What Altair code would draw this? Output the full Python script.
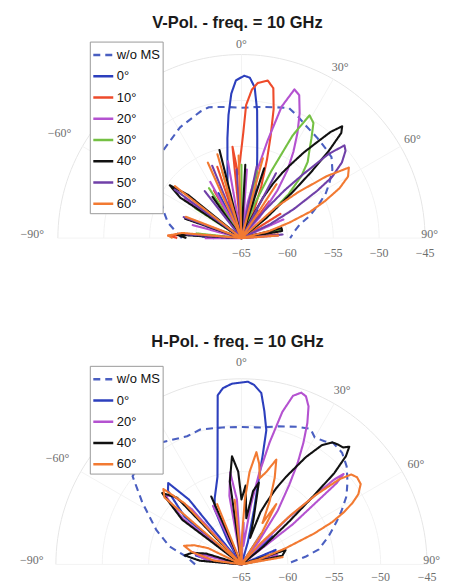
import altair as alt
import pandas as pd
import numpy as np

# ---------------- series names / colours ----------------
top_series = ["w/o MS", "0°", "10°", "20°", "30°", "40°", "50°", "60°"]
bot_series = ["w/o MS", "0°", "20°", "40°", "60°"]
series_colors = {"w/o MS": "#4a5fc1", "0°": "#2c3fbd", "10°": "#ee4b2b", "20°": "#b452d0",
                 "30°": "#74c043", "40°": "#111111", "50°": "#7040a8", "60°": "#f27a32"}

# ---------------- V-Pol (top) : angle (deg) / gain (dB) ----------------
wo_top_ang = [-90,-85,-78,-70,-60,-50,-42,-29,-18,-14,-7,0,7,14,20,25,30,37,43,48,53,58,62,66,72,77,83,87,90]
wo_top_db = [-58.5,-57.9,-56.8,-55.9,-54.6,-53.2,-52.2,-51.2,-50.5,-50.3,-50.6,-50.8,-50.6,-50.3,-49.9,-50.4,-50.9,-51.3,-51.6,-51.8,-52.6,-53.7,-54.6,-55.7,-57.2,-58.5,-59.2,-59.5,-59.7]

t0_ang = [-90,-86,-82,-74,-71,-68,-56,-52,-48,-32,-27,-23,-19,-16,-14,-12,-10,-8,-6,-4,-2,1,3,5,7,9,11,13,16,20,24,28,31,35,46,50,55,72,77,82,90]
t0_db = [-62,-59,-66,-66,-61,-66,-66,-59.5,-66,-66,-59.5,-66,-61,-59.6,-58.7,-57.7,-56.2,-54,-51.5,-49.2,-47.8,-47.3,-47.5,-48.5,-51,-54,-56,-57.5,-59.5,-62,-66,-66,-61.5,-66,-66,-62,-66,-66,-62.5,-66,-66]

t10_ang = [-90,-88,-85,-81,-74,-71,-67,-57,-53,-49,-35,-30,-26,-22,-18.7,-15,-9,-5.6,-3,-1,1,2,4,6,9.5,12,14,16,18,21,25,28,33,37,41,52,58,62,78,84,88,90]
t10_db = [-58,-57,-60,-66,-66,-61.5,-66,-66,-60,-66,-66,-59,-66,-66,-56.8,-66,-66,-55,-58,-56.5,-53.5,-50.5,-48.8,-48,-47.6,-48.3,-50.5,-53.5,-56,-59,-62,-66,-66,-60,-66,-66,-60,-66,-66,-61,-66,-66]

t20_ang = [-90,-86,-78,-75,-72,-60,-55,-50,-36,-29,-25,-14,-10,-6,1,4.5,8,10,13,15,17,19.6,22,25,28,31,34,37,41,45,58,66,70,80,86,90]
t20_db = [-61,-66,-66,-59.5,-66,-66,-57.5,-66,-66,-58,-66,-66,-56.5,-66,-66,-57.5,-64,-61,-57.5,-54,-50,-47.8,-48.2,-50,-52,-54,-56,-58.5,-62,-66,-66,-60,-66,-66,-61,-66]

t30_ang = [-90,-84,-80,-62,-57,-52,-40,-33,-29,-20,-16,-12,-4,0,4,10,13,17,21,24,26.5,29,32,35,38,41,44,47,51,55,70,78,82,90]
t30_db = [-66,-60,-66,-66,-59,-66,-66,-58.5,-66,-66,-57.5,-66,-66,-57,-66,-66,-57.5,-66,-61,-57,-52.5,-49.7,-50.2,-51.7,-53,-54,-55.6,-58,-62,-66,-66,-60.5,-66,-66]

t40_ang = [-90,-87,-83,-75,-71,-67,-60,-56.5,-53.6,-51,-48,-40,-35,-31,-18,-14,-10,-2,3,8,14,18,22,26,28,30,32,34,36,38,40,42,43.5,45,46.5,48,51,54,68,76,80,84,90]
t40_db = [-59,-58,-66,-66,-58.5,-66,-66,-57,-55.3,-57.5,-66,-66,-59.5,-66,-66,-55.1,-66,-66,-57,-66,-66,-57,-66,-63,-60,-58.2,-56.6,-55.2,-53.5,-51.9,-49.9,-48.6,-49.2,-51.5,-54.5,-57.5,-61.5,-66,-66,-60.5,-60.5,-66,-66]

t50_ang = [-90,-86,-82,-74,-70,-66,-58,-54,-50,-42,-38,-34,-26,-22,-18,-8,-4,0,8,12,16,24,28,32,38,40,42,44,46,48,50,53,56,58,61,64,67,80,85,90]
t50_db = [-66,-59,-66,-66,-58.3,-66,-66,-56,-66,-66,-58.5,-66,-66,-56.5,-66,-66,-57.5,-66,-66,-57,-66,-66,-57,-66,-63,-61,-58,-55.3,-51.8,-49.9,-50.2,-51.3,-53.1,-55.3,-58.5,-61.5,-66,-66,-60.5,-66]

t60_ang = [-90,-88,-85,-81,-74,-69,-65,-57,-52,-47,-30,-24,-20,-16,-12,-6,-2,2,8,15,19,26,33,37,44,48,51,54,56.7,60,63,66,69,72,76,80,86,90]
t60_db = [-57.5,-57,-58.5,-66,-66,-58.5,-66,-66,-55.8,-66,-66,-56,-66,-55.5,-66,-66,-56,-66,-66,-56,-66,-66,-58,-66,-66,-60,-57,-53.5,-51,-51.6,-53,-55,-57,-59.5,-62,-66,-61,-66]

# ---------------- H-Pol (bottom) ----------------
wo_bot_ang = [-90,-82,-76,-68,-58,-51,-42,-33,-23,-17,-8,0,8,15,22,27,30,34,37,42,47,52,57,62,66,72,79,83,87,90]
wo_bot_db = [-60,-59,-57,-55.1,-52.4,-49.9,-49.3,-49.3,-50,-49.8,-50.1,-50.2,-50.1,-49.6,-49,-48.6,-49.2,-49,-48.6,-48.8,-49.5,-50.5,-51.5,-52.8,-53.8,-55.1,-56.5,-58,-59.5,-60]

b0_ang = [-90,-84,-79,-75,-70,-56,-50,-45,-42,-39,-34,-30,-26,-22,-18,-15.3,-12.5,-10,-8,-6,-3,0,2,4,6.6,8.5,10.5,11,11.5,13,16,20,28,33,37,44,48,52,62,67,72,76,90]
b0_db = [-66,-62,-60,-61,-66,-66,-57,-53.8,-53.2,-56,-66,-62,-58.4,-57.3,-56.2,-55.2,-53.1,-50.2,-46.6,-45.9,-45.5,-45.4,-45.3,-45.6,-46.4,-48.3,-50.3,-53,-55.7,-59,-62.5,-66,-66,-61,-66,-66,-60.5,-66,-66,-61,-61.5,-66,-66]

b20_ang = [-90,-82,-76,-72,-58,-52,-48,-45,-42,-38,-30,-26,-22,-14,-10,-7,-4,0,3,6,9,11,13,15,17,19.2,21,23,25,27,29,31,34,37,40,45,47.5,48.5,49.5,52,55,70,75,80,90]
b20_db = [-66,-61,-59.5,-66,-66,-57,-54,-54.5,-57,-66,-66,-58,-66,-66,-57.5,-55,-58,-66,-60.5,-63,-58.5,-55,-51.5,-48,-46,-45.4,-45.6,-46.5,-48.2,-50.3,-52.5,-55,-58,-62,-66,-58,-51.5,-50.3,-51.5,-58,-66,-66,-61,-66,-66]

b40_ang = [-90,-85,-81,-77,-73,-69,-60,-53,-48,-44,-40,-30,-24,-20,-12,-8,-5,-2,0,3,6,9,12,15,18,20,22,24.5,27,31,34,36.7,39,41,42.5,44,45.5,46.5,48,51,54,66,72,78,82,90]
b40_db = [-66,-60.5,-58.8,-59.5,-61,-66,-66,-57,-53.5,-55,-66,-66,-57,-66,-66,-56,-53.3,-55,-58,-56.5,-60,-57,-56,-60,-62,-59,-57.8,-56,-54.4,-51.5,-49.5,-48.6,-48.4,-48.3,-47.8,-48.8,-51,-54.4,-58,-62,-66,-66,-60,-60.5,-66,-66]

b60_ang = [-90,-82,-76,-72,-68,-64,-60,-54,-49,-46,-43,-38,-28,-22,-18,-10,-6,-2,1,3,5,7.6,10,12,15,18.4,21,24,27,30,33,36,40,42,45,47,49,50.7,53,56,59,61,63,65,67,70,74,77,80,84,90]
b60_db = [-66,-62,-59.5,-58.5,-59.5,-61,-66,-66,-54,-53.3,-56,-66,-66,-58,-66,-66,-58,-66,-62,-58,-55,-52.8,-54,-55.5,-54.7,-53.1,-55,-57.5,-60,-57.5,-61,-66,-66,-62,-57.5,-54,-51,-49.7,-49.4,-49.5,-50.3,-51.3,-52.6,-54.2,-56.5,-60,-63,-66,-60.5,-66,-66]

# ---------------- axis ticks (the -30° label sits behind the legend in the original) ----------------
theta_ticks = [-90, -60, 0, 30, 60, 90]
theta_labels = ["−90°", "−60°", "0°", "30°", "60°", "90°"]
grid_theta = [-90, -60, -30, 0, 30, 60, 90]
r_ticks = [-65, -60, -55, -50, -45]
r_labels = ["−65", "−60", "−55", "−50", "−45"]
R_MIN = -65


def long_frame(items):
    rows = []
    for name, ang, db in items:
        assert len(ang) == len(db), name
        for i, (a, g) in enumerate(zip(ang, db)):
            rows.append({"series": name, "idx": i, "ang": a, "db": g})
    return pd.DataFrame(rows)


top_df = long_frame([("w/o MS", wo_top_ang, wo_top_db), ("0°", t0_ang, t0_db), ("10°", t10_ang, t10_db),
                     ("20°", t20_ang, t20_db), ("30°", t30_ang, t30_db), ("40°", t40_ang, t40_db),
                     ("50°", t50_ang, t50_db), ("60°", t60_ang, t60_db)])
bot_df = long_frame([("w/o MS", wo_bot_ang, wo_bot_db), ("0°", b0_ang, b0_db), ("20°", b20_ang, b20_db),
                     ("40°", b40_ang, b40_db), ("60°", b60_ang, b60_db)])

# grid geometry
grid_angles = list(np.arange(-90, 90.1, 2.0))
ring_rows = []
for r in r_ticks[1:]:
    for i, a in enumerate(grid_angles):
        ring_rows.append({"ring": str(r), "idx": i, "ang": a, "db": r, "outer": r == r_ticks[-1]})
ring_df = pd.DataFrame(ring_rows)
spoke_rows = []
for a in grid_theta:
    spoke_rows.append({"spoke": str(a), "idx": 0, "ang": a, "db": r_ticks[0]})
    spoke_rows.append({"spoke": str(a), "idx": 1, "ang": a, "db": r_ticks[-1]})
spoke_df = pd.DataFrame(spoke_rows)
theta_df = pd.DataFrame({"ang": theta_ticks, "txt": theta_labels})
r_df = pd.DataFrame({"db": r_ticks, "txt": r_labels})

polar_calc = dict(
    rr=f"max(datum.db, {R_MIN}) - ({R_MIN})",
    px="datum.rr * sin(datum.ang * PI / 180)",
    py="datum.rr * cos(datum.ang * PI / 180)",
)

W = 433


def panel(df, series, s, cx, cy, H, title, title_y, leg_y, rlab_dy, lab_r):
    X = alt.X("px:Q", scale=alt.Scale(domain=[-cx / s, (W - cx) / s], nice=False, zero=False), axis=None)
    Y = alt.Y("py:Q", scale=alt.Scale(domain=[-(H - cy) / s, cy / s], nice=False, zero=False), axis=None)
    cscale = alt.Scale(domain=series, range=[series_colors[k] for k in series])
    dscale = alt.Scale(domain=series, range=[[7, 5]] + [[1, 0]] * (len(series) - 1))
    leg = alt.Legend(title=None, orient="none", legendX=82, legendY=leg_y, symbolType="stroke",
                     symbolSize=400, symbolStrokeWidth=2.4, labelFont="Liberation Sans",
                     labelFontSize=13, labelColor="#111111", labelOffset=2, rowPadding=2.3,
                     padding=2, fillColor="white", strokeColor="#9a9a9a", symbolOpacity=1)

    rings = alt.Chart(ring_df).transform_calculate(**polar_calc).mark_line(strokeWidth=1).encode(
        x=X, y=Y, detail="ring:N", order="idx:Q",
        color=alt.condition("datum.outer", alt.value("#e6e6e6"), alt.value("#f2f2f2")))
    spokes = alt.Chart(spoke_df).transform_calculate(**polar_calc).mark_line(
        strokeWidth=1, color="#f3f3f3").encode(x=X, y=Y, detail="spoke:N", order="idx:Q")

    lines = []
    for k in series:
        lines.append(
            alt.Chart(df).transform_filter(alt.datum.series == k).transform_calculate(**polar_calc)
            .mark_line(strokeWidth=2.1, strokeJoin="round")
            .encode(x=X, y=Y, order="idx:Q",
                    color=alt.Color("series:N", scale=cscale, legend=leg),
                    strokeDash=alt.StrokeDash("series:N", scale=dscale, legend=leg)))

    tl = alt.Chart(theta_df).transform_calculate(
        rl=f"datum.ang == 0 ? {lab_r[0]} : (datum.ang == 90 ? {lab_r[3]} : (datum.ang == -90 ? {lab_r[4]} : (datum.ang < 0 ? {lab_r[1]} : {lab_r[2]})))",
        px="datum.rl * sin(datum.ang * PI / 180)",
        py="datum.rl * cos(datum.ang * PI / 180) + (abs(datum.ang) == 90 ? 0.45 : 0)",
    ).mark_text(font="Liberation Serif", fontSize=12, color="#6e6e6e").encode(x=X, y=Y, text="txt:N")

    rl = alt.Chart(r_df).transform_calculate(px=f"datum.db - ({R_MIN})", py="0").mark_text(
        font="Liberation Serif", fontSize=12, color="#6e6e6e", dy=rlab_dy).encode(x=X, y=Y, text="txt:N")

    ttl = alt.Chart(pd.DataFrame({"t": [title]})).mark_text(
        font="Liberation Sans", fontSize=16.5, fontWeight="bold", color="#1a1a1a").encode(
        text="t:N", x=alt.value(230), y=alt.value(title_y))

    return alt.layer(rings, spokes, *lines, tl, rl, ttl).properties(width=W, height=H)


top = panel(top_df, top_series, 9.2, 234, 230, 292, "V-Pol. - freq. = 10 GHz", 14, 33, 15,
            (21.2, 22.9, 21.5, 20.5, 22.8))
bot = panel(bot_df, bot_series, 9.3, 234, 265, 279, "H-Pol. - freq. = 10 GHz", 42, 66, 13,
            (21.8, 22.9, 21.7, 20.5, 22.6))

chart = alt.vconcat(top, bot, spacing=0, padding=0).resolve_scale(
    color="independent", strokeDash="independent", x="independent", y="independent"
).resolve_legend(color="independent", strokeDash="independent").configure(
    background="white", view=alt.ViewConfig(stroke=None))

chart.save("out.html", embed_options={"renderer": "svg", "actions": False})
